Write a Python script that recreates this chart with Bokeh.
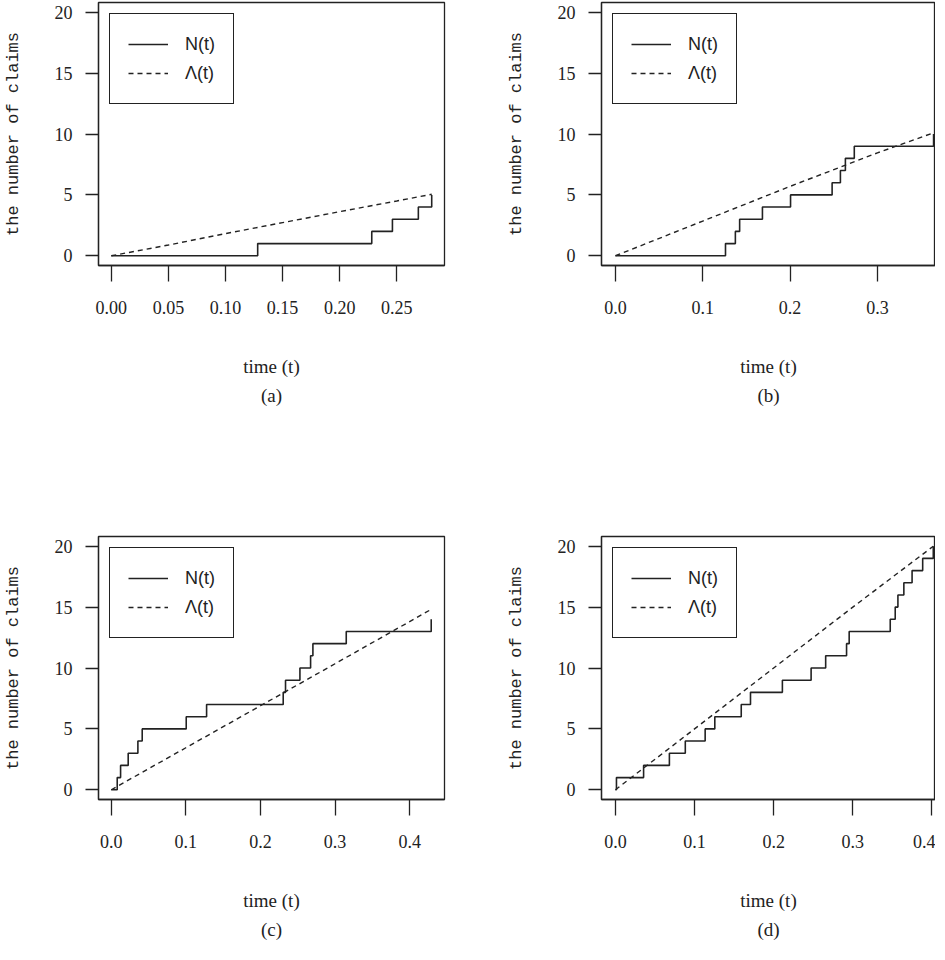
from bokeh.plotting import figure
from bokeh.layouts import column, row
from bokeh.models import Range1d, FixedTicker, NumeralTickFormatter, Title
from bokeh.embed import file_html
from bokeh.resources import INLINE

# ---------------- data ----------------
# panel (a)
jumps_a = [0.0, 0.1282, 0.2281, 0.2462, 0.2689, 0.2806]
counts_a = [0, 1, 2, 3, 4, 5]
lam_t_a = [0.0, 0.05, 0.10, 0.15, 0.20, 0.25, 0.2806]
lam_a = [0.0, 0.88, 1.82, 2.72, 3.62, 4.50, 5.05]
xticks_a = [0.0, 0.05, 0.10, 0.15, 0.20, 0.25]

# panel (b)
jumps_b = [0.0, 0.1260, 0.1373, 0.1422, 0.1683, 0.2005, 0.2481, 0.2576, 0.2633, 0.2735, 0.3643]
counts_b = [0, 1, 2, 3, 4, 5, 6, 7, 8, 9, 10]
lam_t_b = [0.0, 0.10, 0.20, 0.30, 0.3643]
lam_b = [0.0, 2.85, 5.70, 8.45, 10.10]
xticks_b = [0.0, 0.1, 0.2, 0.3]

# panel (c)
jumps_c = [0.0, 0.0080, 0.0125, 0.0227, 0.0357, 0.0415, 0.1005, 0.1278, 0.2305, 0.2336,
           0.2529, 0.2672, 0.2703, 0.3150, 0.4289]
counts_c = [0, 1, 2, 3, 4, 5, 6, 7, 8, 9, 10, 11, 12, 13, 14]
lam_t_c = [0.0, 0.10, 0.20, 0.30, 0.4270]
lam_c = [0.0, 3.45, 6.90, 10.35, 14.75]
xticks_c = [0.0, 0.1, 0.2, 0.3, 0.4]

# panel (d)
jumps_d = [0.0, 0.0013, 0.0356, 0.0682, 0.0883, 0.1134, 0.1256, 0.1590, 0.1707, 0.2110,
           0.2473, 0.2657, 0.2921, 0.2954, 0.3473, 0.3536, 0.3570, 0.3645, 0.3749, 0.3883, 0.4017]
counts_d = [0, 1, 2, 3, 4, 5, 6, 7, 8, 9, 10, 11, 12, 13, 14, 15, 16, 17, 18, 19, 20]
lam_t_d = [0.0, 0.10, 0.20, 0.30, 0.4017]
lam_d = [0.0, 5.0, 10.0, 15.0, 20.0]
xticks_d = [0.0, 0.1, 0.2, 0.3, 0.4]

yticks = [0, 5, 10, 15, 20]
letters = ["(a)", "(b)", "(c)", "(d)"]
x_label = "time (t)"
y_label = "the number of claims"
legend_n = "N(t)"
legend_lam = "\u039b(t)"

INK = "#222222"
SERIF = "Liberation Serif"


def make_panel(jumps, counts, lam_t, lam_v, x0, x1, xticks, fmt, letter,
               frame_w, border_right, top):
    p = figure(
        frame_width=frame_w, frame_height=263,
        min_border_left=95, min_border_right=border_right,
        min_border_top=2 if top else 16,
        min_border_bottom=255 if top else 145,
        x_range=Range1d(x0, x1), y_range=Range1d(-0.8, 20.8),
        output_backend="svg", toolbar_location=None,
        background_fill_color="white", border_fill_color="white",
    )
    p.grid.grid_line_color = None
    p.outline_line_color = INK
    p.outline_line_width = 1.3
    p.outline_line_alpha = 1.0

    # N(t) step function
    p.step(jumps, counts, mode="after", line_color=INK, line_width=1.6,
           legend_label=legend_n)
    # Lambda(t)
    p.line(lam_t, lam_v, line_color=INK, line_width=1.4, line_dash="5 4",
           legend_label=legend_lam)

    for ax in (p.xaxis[0], p.yaxis[0]):
        ax.axis_line_color = INK
        ax.axis_line_width = 1.3
        ax.major_tick_line_color = INK
        ax.major_tick_line_width = 1.3
        ax.minor_tick_line_color = None
        ax.major_tick_in = 0
        ax.major_label_text_font = SERIF
        ax.major_label_text_font_size = "18px"
        ax.major_label_text_color = INK
        ax.axis_label_text_font_style = "normal"
        ax.axis_label_text_color = INK

    xa = p.xaxis[0]
    xa.ticker = FixedTicker(ticks=xticks)
    xa.formatter = NumeralTickFormatter(format=fmt)
    xa.major_tick_out = 16
    xa.major_label_standoff = 19
    xa.axis_label = x_label
    xa.axis_label_text_font = SERIF
    xa.axis_label_text_font_size = "19px"
    xa.axis_label_standoff = 39

    ya = p.yaxis[0]
    ya.ticker = FixedTicker(ticks=yticks)
    ya.major_tick_out = 13
    ya.major_label_standoff = 13
    ya.axis_label = y_label
    ya.axis_label_text_font = "Liberation Mono"
    ya.axis_label_text_font_size = "17px"
    ya.axis_label_standoff = 29

    t = Title(text=letter, align="center", text_font=SERIF, text_font_size="19px",
              text_font_style="normal", text_color=INK, standoff=6)
    p.add_layout(t, "below")

    lg = p.legend[0]
    lg.location = "top_left"
    lg.margin = 11
    lg.padding = 18
    lg.spacing = 5
    lg.glyph_width = 40
    lg.glyph_height = 24
    lg.label_height = 24
    lg.label_standoff = 17
    lg.label_text_font = "Liberation Sans"
    lg.label_text_font_size = "18px"
    lg.label_text_color = INK
    lg.border_line_color = INK
    lg.border_line_width = 1.3
    lg.border_line_alpha = 1.0
    lg.background_fill_alpha = 1.0
    return p


pa = make_panel(jumps_a, counts_a, lam_t_a, lam_a, -0.0112, 0.2918, xticks_a, "0.00",
                letters[0], 346, 59, True)
pb = make_panel(jumps_b, counts_b, lam_t_b, lam_b, -0.0160, 0.3665, xticks_b, "0.0",
                letters[1], 334, 0, True)
pc = make_panel(jumps_c, counts_c, lam_t_c, lam_c, -0.0171, 0.4467, xticks_c, "0.0",
                letters[2], 346, 59, False)
pd = make_panel(jumps_d, counts_d, lam_t_d, lam_d, -0.0176, 0.4045, xticks_d, "0.0",
                letters[3], 334, 0, False)

layout = column(row(pa, pb), row(pc, pd))

open("out.html", "w").write(file_html(layout, INLINE))
